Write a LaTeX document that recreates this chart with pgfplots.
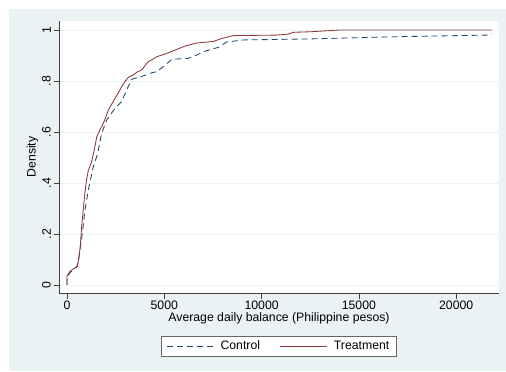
\documentclass[border=0pt]{standalone}
\usepackage{pgfplots}
\pgfplotsset{compat=1.18}
\usepackage{fontspec}
\setmainfont{Liberation Sans}
\definecolor{bgc}{RGB}{234,242,243}
\definecolor{gridc}{RGB}{234,242,243}
\definecolor{stnavy}{RGB}{26,71,111}
\definecolor{stmaroon}{RGB}{144,53,59}
\begin{document}
\begin{tikzpicture}[x=1bp,y=1bp]
\fill[white] (0,0) rectangle (506,371);
\fill[bgc] (9,0) rectangle (506,362);
\begin{axis}[
  at={(59bp,78bp)}, anchor=south west,
  scale only axis, width=440bp, height=272bp,
  xmin=-411, xmax=22200, ymin=-0.0314, ymax=1.0353,
  axis background/.style={fill=white},
  axis x line*=bottom, axis y line*=left,
  axis line style={draw=black!75, line width=0.6pt, -},
  scaled ticks=false,
  xtick={0,5000,10000,15000,20000},
  xticklabels={0,5000,10000,15000,20000},
  ytick={0,0.2,0.4,0.6,0.8,1},
  yticklabels={0,.2,.4,.6,.8,1},
  tick align=outside, major tick length=5.5bp,
  tick style={draw=black!75, line width=0.6pt},
  ymajorgrids, grid style={draw=gridc, line width=0.8pt},
  /pgf/number format/assume math mode=true,
  tick label style={font=\fontsize{12.3}{14}\selectfont},
  yticklabel style={rotate=90, anchor=south, inner sep=2.5pt},
  xticklabel style={inner sep=2pt},
  label style={font=\fontsize{12.3}{14}\selectfont},
  xlabel={Average daily balance (Philippine pesos)},
  ylabel={Density},
  xlabel style={inner sep=1pt},
  ylabel style={yshift=-2bp},
  legend columns=2,
  legend style={at={(axis description cs:0.5,-0.195)}, anchor=center,
    font=\fontsize{12.3}{14}\selectfont, draw=black!60, line width=0.6pt,
    fill=white, inner xsep=5bp, inner ysep=3bp,
    /tikz/every odd column/.append style={column sep=4bp},
    /tikz/every even column/.append style={column sep=18bp}},
  legend image code/.code={\draw[#1] (0bp,0bp) -- (47bp,0bp);},
]
\addplot[stnavy, line width=0.85pt, dash pattern=on 6bp off 4bp] coordinates {
(0,0) (0,0.03) (120,0.045) (240,0.055) (500,0.072) (580,0.09) (668,0.137)
(788,0.203) (925,0.294) (1097,0.373) (1353,0.464) (1525,0.503) (1610,0.529)
(1781,0.595) (2038,0.647) (2467,0.693) (2810,0.719) (3067,0.765) (3323,0.807)
(3922,0.820) (4266,0.830) (4610,0.837) (4950,0.856) (5381,0.885) (6235,0.889)
(6667,0.902) (7006,0.915) (7777,0.932) (8209,0.953) (9062,0.961) (12490,0.965)
(17116,0.974) (21572,0.980) (21830,0.985)
};
\addlegendentry{Control}
\addplot[stmaroon, line width=0.85pt] coordinates {
(0,0) (0,0.035) (120,0.05) (240,0.059) (530,0.072) (600,0.1) (680,0.15)
(755,0.229) (840,0.30) (920,0.36) (1000,0.41) (1097,0.45) (1250,0.48)
(1405,0.53) (1525,0.58) (1700,0.61) (1866,0.634) (2000,0.66) (2124,0.686)
(2300,0.71) (2467,0.732) (2650,0.755) (2810,0.778) (3000,0.80) (3152,0.814)
(3410,0.824) (3600,0.835) (3838,0.843) (4000,0.86) (4181,0.876) (4400,0.885)
(4610,0.895) (5124,0.908) (5637,0.924) (6065,0.937) (6667,0.949) (7520,0.955)
(7952,0.967) (8548,0.978) (10779,0.980) (11375,0.984) (11632,0.991)
(12490,0.993) (13349,0.997) (14000,1.0) (21830,1.0)
};
\addlegendentry{Treatment}
\end{axis}
\pgfresetboundingbox
\path (0,0) rectangle (506,371);
\end{tikzpicture}
\end{document}
